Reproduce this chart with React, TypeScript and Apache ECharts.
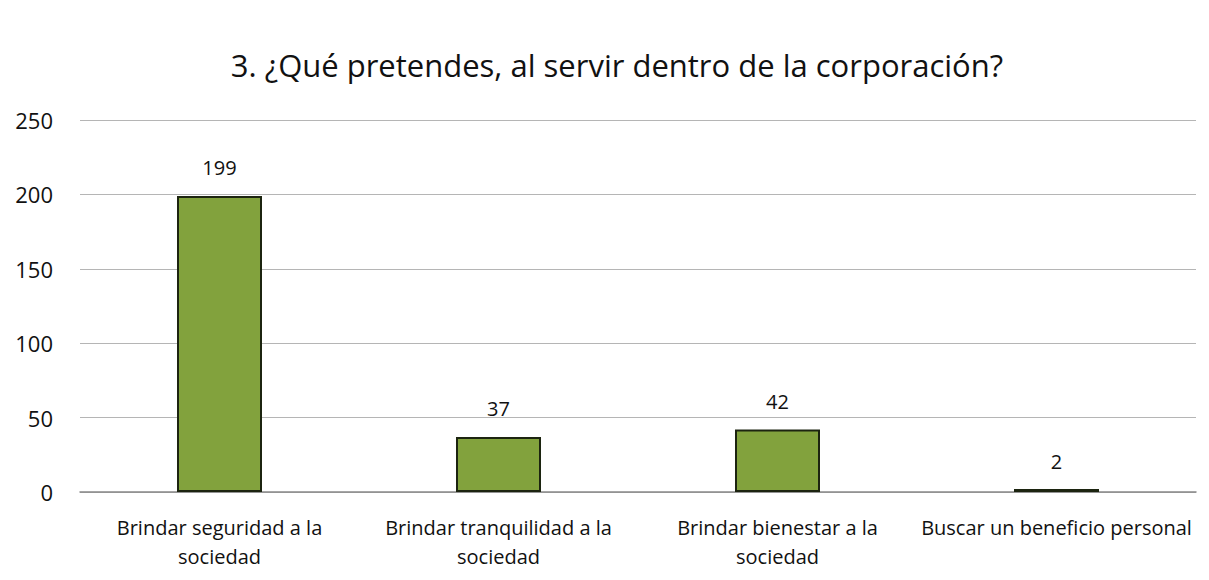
import React, { useEffect, useRef } from "react";
import * as echarts from "echarts";

const categories = [
  "Brindar seguridad a la\nsociedad",
  "Brindar tranquilidad a la\nsociedad",
  "Brindar bienestar a la\nsociedad",
  "Buscar un beneficio personal",
];
const values = [199, 37, 42, 2];
const titleText = "3. ¿Qué pretendes, al servir dentro de la corporación?";

export default function App() {
  const ref = useRef<HTMLDivElement>(null);
  useEffect(() => {
    if (!ref.current) return;
    const chart = echarts.init(ref.current, null, { renderer: "svg" });
    chart.setOption({
      animation: false,
      backgroundColor: "#ffffff",
      title: {
        text: titleText,
        left: 612,
        top: 44,
        textAlign: "center",
        textStyle: { fontFamily: "Open Sans", fontSize: 31, fontWeight: "normal", color: "#111" },
      },
      grid: { left: 80, right: 13, top: 120, bottom: 88 },
      xAxis: {
        type: "category",
        data: categories,
        axisTick: { show: false },
        axisLine: { lineStyle: { color: "#888", width: 1.5 } },
        axisLabel: {
          color: "#111",
          fontFamily: "Open Sans",
          fontSize: 20,
          lineHeight: 29,
          margin: 21,
          interval: 0,
        },
      },
      yAxis: {
        type: "value",
        min: 0,
        max: 250,
        interval: 50,
        axisLine: { show: false },
        axisTick: { show: false },
        splitLine: { lineStyle: { color: "#b5b5b5", width: 1 } },
        axisLabel: { color: "#111", fontFamily: "Open Sans", fontSize: 22, margin: 27 },
      },
      series: [
        {
          type: "bar",
          data: values,
          barWidth: 85,
          itemStyle: { color: "#82a23d", borderColor: "#1c2410", borderWidth: 2 },
          label: {
            show: true,
            position: "top",
            distance: 18,
            color: "#111",
            fontFamily: "Open Sans",
            fontSize: 20,
          },
        },
      ],
    });
    return () => chart.dispose();
  }, []);
  return <div ref={ref} style={{ position: "fixed", left: 0, top: 0, width: 1209, height: 580 }} />;
}
